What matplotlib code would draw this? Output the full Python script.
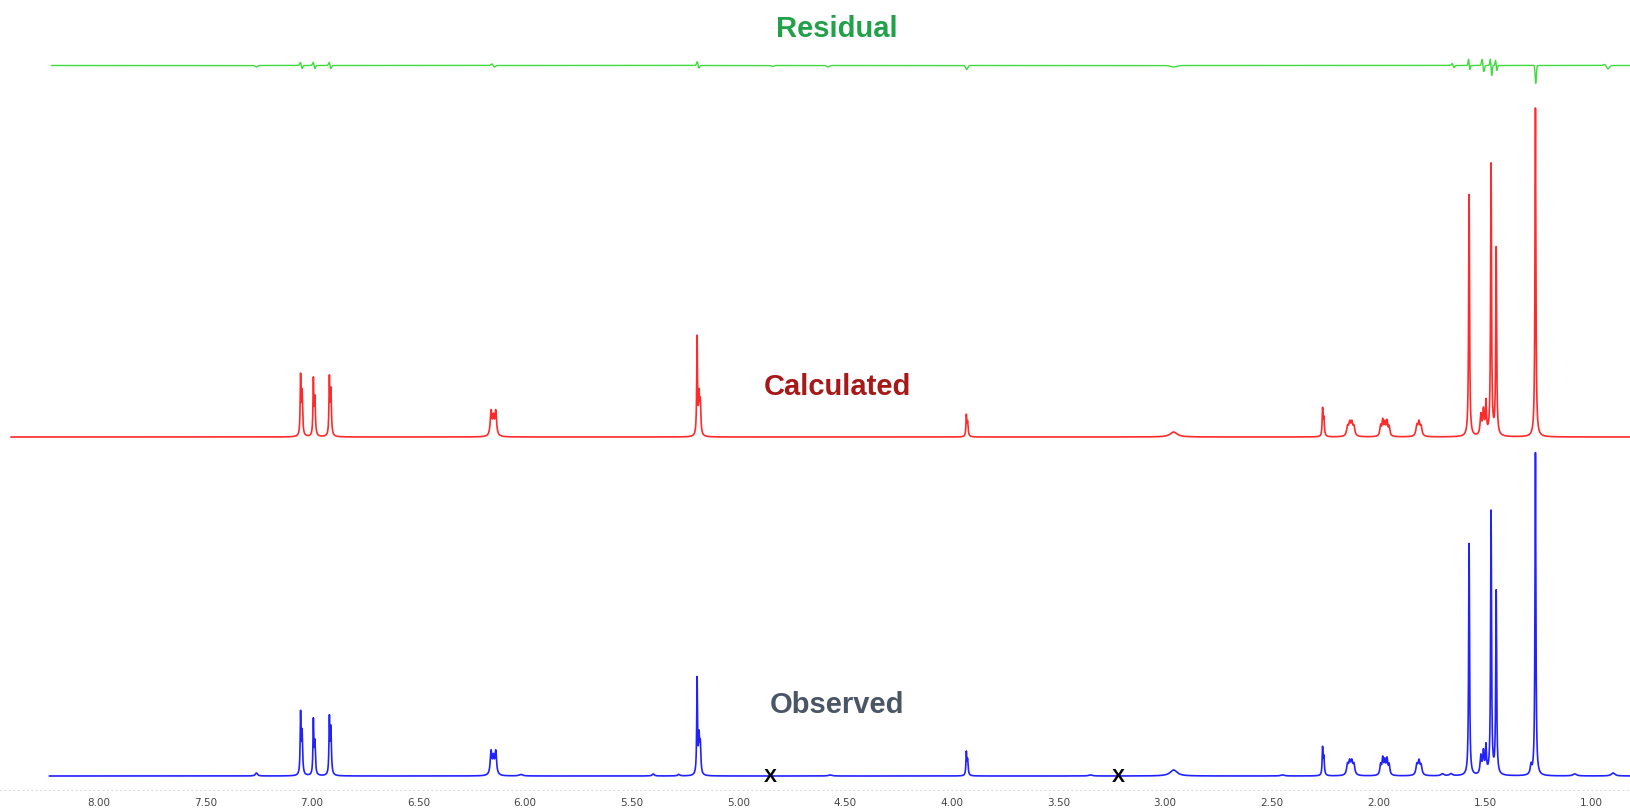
import numpy as np
import matplotlib.pyplot as plt

# peak list (ppm) with calculated / observed intensities and half widths
shift = [7.053, 7.046, 6.993, 6.986, 6.918, 6.911,
         6.160, 6.149, 6.138,
         5.194, 5.185, 5.179,
         3.932, 3.926, 2.960,
         2.262, 2.256,
         2.145, 2.135, 2.125, 2.115,
         1.990, 1.980, 1.970, 1.960, 1.950,
         1.820, 1.810, 1.800,
         1.575, 1.520, 1.508, 1.496, 1.472, 1.448, 1.264]
calc_int = [57, 43, 54, 37, 55, 45,
            24, 17, 24,
            97, 37, 30,
            20, 14, 5,
            26, 18,
            9, 12, 12, 9,
            10, 15, 12, 14, 9,
            10, 13, 9,
            242, 20, 24, 32, 271, 187, 329]
obs_int = [59, 42, 53, 32, 54, 46,
           23, 16, 23,
           95, 35, 28,
           22, 15, 6,
           26, 18,
           10, 12, 12, 10,
           10, 16, 13, 15, 10,
           10, 13, 9,
           232, 18, 22, 27, 263, 183, 323]
width = [0.0022, 0.003, 0.0022, 0.003, 0.0022, 0.003,
         0.0045, 0.0045, 0.0045,
         0.0022, 0.003, 0.003,
         0.0022, 0.003, 0.02,
         0.0022, 0.003,
         0.005, 0.005, 0.005, 0.005,
         0.004, 0.004, 0.004, 0.004, 0.004,
         0.005, 0.005, 0.005,
         0.0025, 0.004, 0.004, 0.003, 0.0025, 0.0025, 0.0025]

# small extra signals only present in the observed spectrum
imp_shift = [7.26, 6.02, 5.40, 5.28, 4.57, 3.35, 2.45, 1.70, 1.66, 1.285, 1.08, 0.90]
imp_int = [3, 1.5, 2, 1.5, 1, 1, 1, 2, 2, 9, 2, 3]
imp_width = [0.006, 0.01, 0.006, 0.006, 0.01, 0.01, 0.01, 0.008, 0.008, 0.004, 0.01, 0.01]

# residual features: dispersive and absorptive parts
res_shift = [7.26, 7.05, 6.99, 6.915, 6.15, 5.19, 4.84, 4.58, 3.93, 2.96,
             1.65, 1.575, 1.51, 1.472, 1.448, 1.264, 0.93]
res_disp = [0, 3, 3, 3, 1.5, 3, 0, 0, 0, 0, 2, 5, 6, 8, 5, 5, 2]
res_abs = [-1.5, 0, 0, 0, 0, 1, -1, -1.5, -4, -1.5, 0, 2, 0, -3, 0, -16, -2]
res_w = [0.005, 0.004, 0.004, 0.004, 0.006, 0.004, 0.006, 0.006, 0.005, 0.015,
         0.004, 0.003, 0.004, 0.003, 0.003, 0.003, 0.008]

tick_ppm = [8.0, 7.5, 7.0, 6.5, 6.0, 5.5, 5.0, 4.5, 4.0, 3.5, 3.0, 2.5, 2.0, 1.5, 1.0]
tick_txt = ['8.00', '7.50', '7.00', '6.50', '6.00', '5.50', '5.00', '4.50',
            '4.00', '3.50', '3.00', '2.50', '2.00', '1.50', '1.00']
excluded = [4.85, 3.22]


def lorentz(x, x0, h, w):
    return h / (1 + ((x - x0) / w) ** 2)


def spectrum(x, pos, amp, wid):
    y = np.zeros_like(x)
    for p, a, w in zip(pos, amp, wid):
        y += lorentz(x, p, a, w)
    return y


x = np.linspace(8.46, 0.81, 60000)
calc = spectrum(x, shift, calc_int, width)
obs = spectrum(x, shift, obs_int, width) + spectrum(x, imp_shift, imp_int, imp_width)

# residual drawn as short gaussian wiggles so it stays flat between peaks
resid = np.zeros_like(x)
for p, d, a, w in zip(res_shift, res_disp, res_abs, res_w):
    u = (x - p) / w
    g = np.exp(-0.5 * u ** 2)
    resid += d * 1.65 * u * g + a * g

fig = plt.figure(figsize=(16.31, 8.10), dpi=100)
ax = fig.add_axes([0, 20 / 810, 1, 790 / 810])
ax.set_xlim(8.462, 0.816)
ax.set_ylim(20, 810)

m_calc = x <= 8.41
m_obs = x <= 8.23
m_res = x <= 8.22
ax.plot(x[m_res], resid[m_res] + 744.5, color='#3ddc3d', lw=1.0)
ax.plot(x[m_calc], calc[m_calc] + 373, color='#ff2a2a', lw=1.2)
ax.plot(x[m_obs], obs[m_obs] + 34, color='#2222ff', lw=1.2)

font = 'Liberation Sans'
ax.text(4.538, 781, 'Residual', color='#23a04a', fontsize=21, fontweight='bold',
        family=font, ha='center', va='center')
ax.text(4.538, 423, 'Calculated', color='#a81818', fontsize=21, fontweight='bold',
        family=font, ha='center', va='center')
ax.text(4.538, 105, 'Observed', color='#4a5566', fontsize=21, fontweight='bold',
        family=font, ha='center', va='center')
for p in excluded:
    ax.text(p, 32, 'X', color='black', fontsize=14, fontweight='bold', family=font,
            ha='center', va='center')

ax.set_xticks(tick_ppm)
ax.set_xticklabels(tick_txt, fontsize=7.5, color='#444444')
ax.tick_params(axis='x', length=0, pad=5.5)
ax.set_yticks([])
for s in ['top', 'left', 'right']:
    ax.spines[s].set_visible(False)
ax.spines['bottom'].set_linestyle((0, (1, 3)))
ax.spines['bottom'].set_color('#dddddd')

fig.savefig('out.png', dpi=100)
